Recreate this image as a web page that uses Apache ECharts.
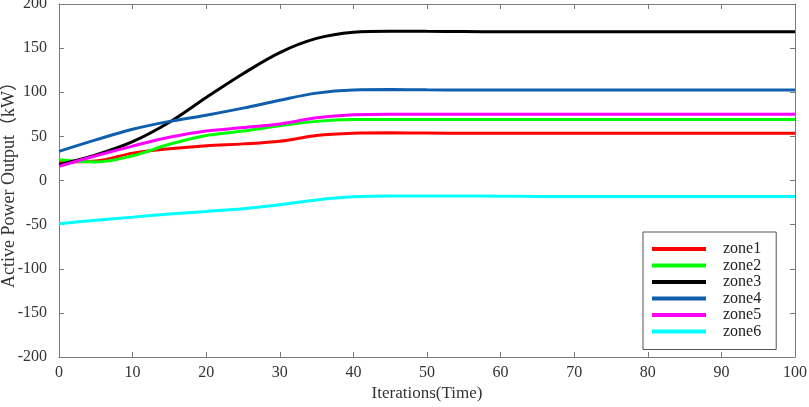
<!DOCTYPE html>
<html>
<head>
<meta charset="utf-8">
<script src="https://cdn.jsdelivr.net/npm/echarts@6/dist/echarts.min.js"></script>
<style>
  html, body { margin: 0; padding: 0; background: #fff; }
  #main { width: 809px; height: 407px; }
</style>
</head>
<body>
<div id="main"></div>
<script>
// iterations sampled every 5 steps
const iterations = [0, 5, 10, 15, 20, 25, 30, 35, 40, 45, 50, 55, 60, 65, 70, 75, 80, 85, 90, 95, 100];

const zone1 = [21, 22, 31, 36, 39.5, 41.5, 44.5, 51, 53.5, 54, 53.8, 53.6, 53.6, 53.6, 53.6, 53.6, 53.6, 53.6, 53.6, 53.6, 53.6];
const zone2 = [23.5, 21, 28, 41, 51, 56, 62, 67, 69, 69.2, 69, 69, 69, 69, 69, 69, 69, 69, 69, 69, 69];
const zone3 = [18, 29, 44, 66, 94, 121, 145, 161, 168, 169.2, 169, 168.8, 168.6, 168.5, 168.5, 168.5, 168.5, 168.5, 168.5, 168.5, 168.5];
const zone4 = [33, 46, 58, 67, 74, 82, 91, 99, 102.5, 103, 102.7, 102.5, 102.5, 102.5, 102.5, 102.5, 102.5, 102.5, 102.5, 102.5, 102.5];
const zone5 = [16, 28, 39, 49, 56, 60, 64, 71, 74.5, 75.2, 75, 75, 75, 75, 75, 75, 75, 75, 75, 75, 75];
const zone6 = [-49, -45, -41.5, -38, -35, -32, -27.5, -22, -18.5, -17.5, -17.5, -17.6, -17.8, -18, -18, -18, -18, -18, -18, -18, -18];

const zoneNames = ['zone1', 'zone2', 'zone3', 'zone4', 'zone5', 'zone6'];
const zoneData = [zone1, zone2, zone3, zone4, zone5, zone6];
const zoneColors = ['#ff0000', '#00ff00', '#000000', '#0f5fad', '#ff00ff', '#00ffff'];

const serif = '"Liberation Serif", "Times New Roman", "Noto Sans CJK SC", serif';
const axisGray = '#7a7a7a';

const chart = echarts.init(document.getElementById('main'), null, { renderer: 'canvas' });

const series = zoneNames.map(function (name, i) {
    return {
        name: name,
        type: 'line',
        smooth: 0.35,
        symbol: 'none',
        data: iterations.map(function (x, k) { return [x, zoneData[i][k]]; }),
        lineStyle: { width: 3, color: zoneColors[i] },
        itemStyle: { color: zoneColors[i] }
    };
});

const hiddenLabel = { show: false };
const tickInside = { show: true, inside: true, length: 5, lineStyle: { color: axisGray } };
const boxLine = { show: true, onZero: false, lineStyle: { color: axisGray } };

const option = {
    animation: false,
    backgroundColor: '#fff',
    grid: { left: 59, right: 14, top: 4, bottom: 50, containLabel: false, outerBoundsMode: 'none' },
    xAxis: [{
        type: 'value',
        min: 0,
        max: 100,
        interval: 10,
        name: 'Iterations(Time)',
        nameLocation: 'middle',
        nameGap: 28,
        nameMoveOverlap: false,
        nameTextStyle: { fontFamily: serif, fontSize: 17, color: '#333' },
        axisLine: boxLine,
        axisTick: tickInside,
        axisLabel: { fontFamily: serif, fontSize: 16, color: '#333', margin: 8 },
        splitLine: { show: false }
    }, {
        type: 'value',
        position: 'top',
        min: 0,
        max: 100,
        interval: 10,
        axisLine: boxLine,
        axisTick: tickInside,
        axisLabel: hiddenLabel,
        splitLine: { show: false }
    }],
    yAxis: [{
        type: 'value',
        min: -200,
        max: 200,
        interval: 50,
        name: 'Active Power Output（kW）',
        nameLocation: 'middle',
        nameGap: 41,
        nameMoveOverlap: false,
        nameTextStyle: { fontFamily: serif, fontSize: 18, color: '#333' },
        axisLine: boxLine,
        axisTick: tickInside,
        axisLabel: { fontFamily: serif, fontSize: 16, color: '#333', margin: 12 },
        splitLine: { show: false }
    }, {
        type: 'value',
        position: 'right',
        min: -200,
        max: 200,
        interval: 50,
        axisLine: boxLine,
        axisTick: tickInside,
        axisLabel: hiddenLabel,
        splitLine: { show: false }
    }],
    legend: {
        data: zoneNames,
        orient: 'vertical',
        left: 643,
        top: 232,
        width: 134,
        padding: [9, 15, 10, 9],
        backgroundColor: '#fff',
        borderColor: '#555',
        borderWidth: 1,
        borderRadius: 0,
        icon: 'rect',
        itemWidth: 54,
        itemHeight: 4,
        itemGap: 0.5,
        textStyle: {
            fontFamily: serif,
            fontSize: 16,
            lineHeight: 15,
            color: '#222',
            padding: [0, 0, 0, 12]
        }
    },
    series: series
};

chart.setOption(option, true);
</script>
</body>
</html>
